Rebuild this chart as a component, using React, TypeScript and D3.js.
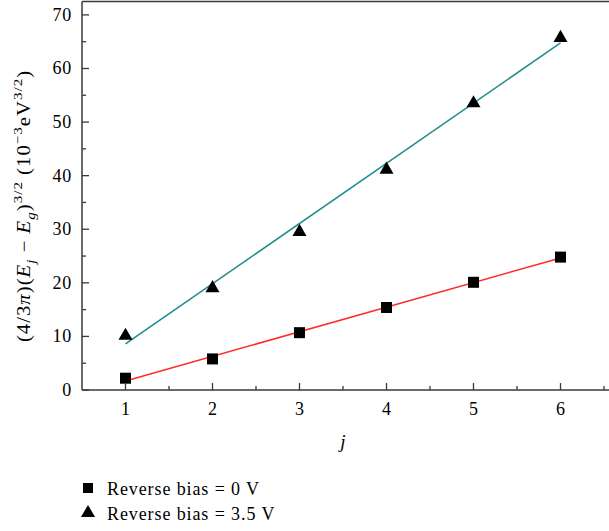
import React from "react";
import * as d3 from "d3";

const jValues = [1, 2, 3, 4, 5, 6];
const bias0 = [2.2, 5.8, 10.7, 15.4, 20.1, 24.8];
const bias35 = [10.3, 19.2, 29.7, 41.3, 53.7, 65.9];
const xTicks = [1, 2, 3, 4, 5, 6];
const yTicks = [0, 10, 20, 30, 40, 50, 60, 70];
const legendLabels = ["Reverse bias = 0 V", "Reverse bias = 3.5 V"];

const W = 609;
const H = 531;
const left = 82;
const bottom = 390;
const FONT = "'Liberation Serif', 'Times New Roman', serif";

function fit(xs: number[], ys: number[]) {
  const mx = d3.mean(xs)!;
  const my = d3.mean(ys)!;
  let num = 0, den = 0;
  xs.forEach((x, i) => {
    num += (x - mx) * (ys[i] - my);
    den += (x - mx) * (x - mx);
  });
  const slope = num / den;
  return (x: number) => my + slope * (x - mx);
}

export default function App() {
  const x = d3.scaleLinear().domain([0.5, 6.5]).range([left, 604]);
  const y = d3.scaleLinear().domain([0, 72.5]).range([bottom, 1.5]);
  const f0 = fit(jValues, bias0);
  const f35 = fit(jValues, bias35);
  const line = d3.line<number[]>().x((d) => x(d[0])).y((d) => y(d[1]));
  const x0 = jValues[0];
  const x1 = jValues[jValues.length - 1];
  const minorX = d3.range(1.5, 6.6, 1);
  const minorY = d3.range(5, 72, 10);
  const axisColor = "#3a3a3a";
  const tri = d3.symbol().type(d3.symbolTriangle).size(85)()!;
  const ls = 0.9;

  return (
    <svg width={W} height={H} style={{ position: "absolute", left: 0, top: 0, background: "#fff" }}>
      <rect x={0} y={0} width={W} height={H} fill="#fff" />
      {/* fit lines */}
      <path d={line([[x0, f35(x0)], [x1, f35(x1)]])!} stroke="#1f8c8c" strokeWidth={1.5} fill="none" />
      <path d={line([[x0, f0(x0)], [x1, f0(x1)]])!} stroke="#ff2a2a" strokeWidth={1.5} fill="none" />
      {/* markers */}
      {jValues.map((j, i) => (
        <rect key={"s" + i} x={x(j) - 5.5} y={y(bias0[i]) - 5.5} width={11} height={11} fill="#000" />
      ))}
      {jValues.map((j, i) => (
        <path key={"t" + i} d={tri} transform={`translate(${x(j)},${y(bias35[i]) + 1})`} fill="#000" />
      ))}
      {/* axes */}
      <line x1={left} x2={W} y1={bottom} y2={bottom} stroke={axisColor} strokeWidth={1.5} />
      <line x1={left} x2={left} y1={1.5} y2={bottom} stroke={axisColor} strokeWidth={1.5} />
      <line x1={left} x2={W} y1={1.5} y2={1.5} stroke={axisColor} strokeWidth={1.5} />
      {xTicks.map((t) => (
        <g key={"xt" + t}>
          <line x1={x(t)} x2={x(t)} y1={bottom} y2={bottom - 7} stroke={axisColor} strokeWidth={1.3} />
          <text x={x(t)} y={415} textAnchor="middle" fontFamily={FONT} fontSize={18}>{t}</text>
        </g>
      ))}
      {minorX.map((t) => (
        <line key={"xm" + t} x1={x(t)} x2={x(t)} y1={bottom} y2={bottom - 4} stroke={axisColor} strokeWidth={1.3} />
      ))}
      {yTicks.map((t) => (
        <g key={"yt" + t}>
          <line x1={left} x2={left + 7} y1={y(t)} y2={y(t)} stroke={axisColor} strokeWidth={1.3} />
          <text x={72} y={y(t) + 6} textAnchor="end" fontFamily={FONT} fontSize={18} letterSpacing={0.8}>{t}</text>
        </g>
      ))}
      {minorY.map((t) => (
        <line key={"ym" + t} x1={left} x2={left + 4} y1={y(t)} y2={y(t)} stroke={axisColor} strokeWidth={1.3} />
      ))}
      {/* x label */}
      <text x={343} y={448} textAnchor="middle" fontFamily={FONT} fontSize={19} fontStyle="italic">j</text>
      {/* y label */}
      <text transform="translate(30,206) rotate(-90) scale(1.15,1)" textAnchor="middle" fontFamily={FONT} fontSize={18} letterSpacing={ls}>
        <tspan>(4/3</tspan>
        <tspan fontStyle="italic">π</tspan>
        <tspan>)(</tspan>
        <tspan fontStyle="italic">E</tspan>
        <tspan fontStyle="italic" fontSize={13} dy={5}>j</tspan>
        <tspan dy={-5}> − </tspan>
        <tspan fontStyle="italic">E</tspan>
        <tspan fontStyle="italic" fontSize={13} dy={5}>g</tspan>
        <tspan dy={-5}>)</tspan>
        <tspan fontSize={13} dy={-8}>3/2</tspan>
        <tspan dy={8}> (10</tspan>
        <tspan fontSize={13} dy={-8}>−3</tspan>
        <tspan dy={8}>eV</tspan>
        <tspan fontSize={13} dy={-8}>3/2</tspan>
        <tspan dy={8}>)</tspan>
      </text>
      {/* legend */}
      <rect x={83} y={483} width={10} height={10} fill="#000" />
      <text x={107} y={495} fontFamily={FONT} fontSize={18} letterSpacing={ls}>{legendLabels[0]}</text>
      <path d={tri} transform="translate(88,513)" fill="#000" />
      <text x={107} y={520} fontFamily={FONT} fontSize={18} letterSpacing={ls}>{legendLabels[1]}</text>
    </svg>
  );
}
